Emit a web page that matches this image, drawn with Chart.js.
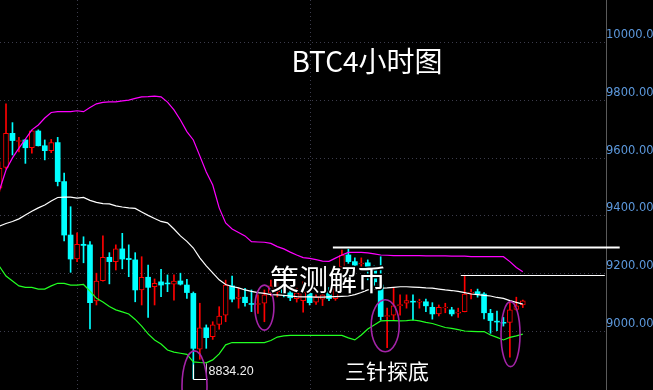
<!DOCTYPE html>
<html><head><meta charset="utf-8">
<script src="https://cdn.jsdelivr.net/npm/chart.js@4.4.1/dist/chart.umd.min.js"></script>
<style>html,body{margin:0;padding:0;background:#000;overflow:hidden}#wrap{width:653px;height:390px;background:#000}</style>
</head><body><div id="wrap"><canvas id="c" width="653" height="390"></canvas></div>
<script>
// 4h candles, index 0..81
const openP  = [9494,9566,9684,9656,9661,9634,9692,9641,9624,9652,9517,9332,9249,9300,9298,9104,9174,9255,9240,9284,9251,9246,9142,9186,9153,9170,9166,9162,9173,9159,9130,8937,9011,8980,9023,9055,9156,9113,9117,9095,9092,9096,9131,9135,9152,9132,9112,9105,9130,9100,9110,9135,9112,9221,9263,9240,9232,9236,9211,9159,9050,9055,9088,9096,9103,9100,9101,9082,9059,9080,9073,9062,9067,9131,9136,9128,9061,9034,9030,9030,9075,9090];
const highP  = [9585,9786,9721,9670,9663,9694,9696,9661,9663,9670,9546,9430,9340,9326,9309,9200,9329,9271,9298,9338,9298,9271,9257,9228,9180,9213,9194,9194,9200,9179,9135,9096,9021,9032,9084,9176,9190,9148,9148,9142,9125,9142,9176,9170,9165,9145,9148,9170,9142,9125,9140,9150,9222,9280,9283,9253,9253,9246,9225,9257,9079,9148,9125,9125,9125,9110,9110,9098,9090,9096,9082,9079,9191,9144,9145,9133,9075,9069,9047,9098,9117,9107];
const lowP   = [9484,9561,9609,9620,9580,9615,9640,9592,9617,9502,9312,9203,9240,9236,9007,9090,9172,9163,9211,9215,9188,9101,9090,9047,9090,9119,9136,9107,9159,9113,8834.2,8902,8940,8971,9006,9032,9101,9079,9086,9067,9061,9032,9121,9118,9118,9105,9100,9065,9090,9092,9088,9105,9106,9211,9234,9211,9211,9177,9149,9038,8942,9038,9055,9079,9038,9079,9067,9041,9052,9063,9052,9047,9066,9111,9117,9042,8992,9001,9017,8909,9072,9081];
const closeP = [9563,9684,9659,9659,9634,9693,9641,9624,9652,9517,9332,9249,9300,9296,9098,9173,9255,9240,9284,9249,9247,9142,9186,9151,9165,9159,9163,9173,9162,9133,8940,9011,8977,9021,9052,9159,9110,9117,9098,9092,9095,9125,9156,9152,9132,9115,9130,9135,9098,9118,9125,9112,9210,9263,9240,9228,9235,9211,9170,9050,9053,9087,9091,9105,9100,9103,9087,9059,9082,9083,9059,9065,9128,9134,9128,9063,9036,9031,9027,9073,9087,9104];
// Bollinger bands
const bollUpper = [9488,9557,9599,9633,9664,9696,9713,9737,9756,9759,9759,9759,9762,9759,9773,9786,9791,9793,9793,9796,9799,9805,9810,9811,9813,9810,9792,9765,9730,9690,9661,9606,9550,9505,9426,9374,9353,9341,9329,9309,9308,9307,9303,9292,9284,9273,9263,9254,9251,9247,9242,9241,9252,9263,9272,9272,9272,9270,9267,9263,9262,9261,9261,9261,9261,9261,9260,9260,9260,9260,9259,9259,9259,9257,9257,9257,9257,9257,9257,9240,9220,9205];
const bollMid   = [9363,9372,9379,9388,9401,9414,9426,9436,9450,9462,9463,9463,9460,9462,9452,9445,9441,9440,9433,9429,9426,9424,9412,9400,9389,9379,9374,9353,9329,9310,9287,9253,9225,9201,9177,9161,9154,9149,9142,9137,9133,9130,9126,9125,9123,9121,9119,9118,9118,9117,9117,9118,9119,9120,9121,9126,9133,9142,9145,9148,9149,9151,9153,9153,9152,9151,9149,9148,9145,9142,9140,9137,9133,9128,9126,9123,9121,9116,9113,9105,9099,9093];
const bollLower = [9223,9190,9173,9156,9151,9151,9145,9145,9156,9165,9165,9159,9159,9161,9138,9113,9100,9085,9073,9066,9059,9040,9017,8990,8969,8955,8934,8927,8923,8919,8893,8891,8890,8900,8921,8952,8960,8960,8960,8960,8960,8960,8967,8979,8983,8985,8985,8985,8985,8985,8985,8985,8985,8985,8976,8969,8986,9007,9021,9035,9036,9036,9035,9036,9038,9035,9030,9026,9019,9012,9009,9005,9000,8999,8998,8998,8986,8978,8969,8978,8983,8989];
const yTicks = [9000,9200,9400,9600,9800,10000];
const dayLines = [12,48];
const lowMark = {index:30, price:8834.20, text:'8834.20'};
const resistA = {from:51.6, to:96, price:9289};
const resistB = {from:71.4, to:93.7, price:9194};
const rings = [{index:30.18, price:8810, rx:12.5, ry:35},{index:41.0, price:9081, rx:9.5, ry:22.5},{index:59.7, price:9018, rx:14, ry:26},{index:79.1, price:8989, rx:9.5, ry:32.5}];

const idx = openP.map((_, i) => i);
const isUp = i => closeP[i] >= openP[i];
const RED = '#ff0000', CYAN = '#00ffff';

const annot = {
  id: 'annot',
  beforeDatasetsDraw(chart) {
    const {ctx, chartArea: a, scales: {x, y}} = chart;
    ctx.save();
    ctx.strokeStyle = '#3c3c4c';
    ctx.lineWidth = 1;
    ctx.setLineDash([1, 3]);
    yTicks.forEach(v => {
      const py = Math.round(y.getPixelForValue(v)) + 0.5;
      ctx.beginPath(); ctx.moveTo(a.left, py); ctx.lineTo(a.right, py); ctx.stroke();
    });
    dayLines.forEach(k => {
      const px = Math.round(x.getPixelForValue(k)) + 0.5;
      ctx.beginPath(); ctx.moveTo(px, a.top); ctx.lineTo(px, a.bottom); ctx.stroke();
    });
    ctx.restore();
  },
  afterDatasetsDraw(chart) {
    const {ctx, scales: {x, y}} = chart;
    ctx.save();
    ctx.strokeStyle = '#ffffff';
    let py = y.getPixelForValue(resistA.price);
    ctx.lineWidth = 2;
    ctx.beginPath(); ctx.moveTo(x.getPixelForValue(resistA.from), py); ctx.lineTo(x.getPixelForValue(resistA.to), py); ctx.stroke();
    py = Math.round(y.getPixelForValue(resistB.price)) + 0.5;
    ctx.lineWidth = 1;
    ctx.beginPath(); ctx.moveTo(x.getPixelForValue(resistB.from), py); ctx.lineTo(x.getPixelForValue(resistB.to), py); ctx.stroke();
    const lx = Math.round(x.getPixelForValue(lowMark.index)) + 0.5;
    const ly = Math.round(y.getPixelForValue(lowMark.price)) + 0.5;
    ctx.strokeStyle = '#ffffff';
    ctx.beginPath(); ctx.moveTo(lx, ly - 15); ctx.lineTo(lx, ly); ctx.lineTo(lx + 14, ly); ctx.stroke();
    ctx.strokeStyle = '#bdbdbd';
    ctx.beginPath(); ctx.moveTo(lx + 13, ly - 16); ctx.lineTo(lx + 13, ly); ctx.stroke();
    ctx.fillStyle = '#f0f0f0';
    ctx.font = '12.5px "Liberation Sans", Arial, sans-serif';
    ctx.textBaseline = 'middle'; ctx.textAlign = 'left';
    ctx.fillText(lowMark.text, lx + 15, ly - 8);
    ctx.strokeStyle = '#a424a8';
    ctx.lineWidth = 1.6;
    rings.forEach(r => {
      ctx.beginPath();
      ctx.ellipse(x.getPixelForValue(r.index), y.getPixelForValue(r.price), r.rx, r.ry, 0, 0, Math.PI * 2);
      ctx.stroke();
    });
    ctx.textBaseline = 'alphabetic'; ctx.textAlign = 'center';
    ctx.fillStyle = '#ffffff';
    ctx.font = '28px "Noto Sans CJK SC", sans-serif';
    ctx.fillText('BTC4小时图', 367, 72);
    ctx.font = '29px "Noto Sans CJK SC", sans-serif';
    ctx.textBaseline = 'middle';
    ctx.lineWidth = 3; ctx.strokeStyle = '#000000'; ctx.lineJoin = 'round';
    ctx.strokeText('策测解币', 328, 280);
    ctx.fillText('策测解币', 328, 280);
    ctx.font = '21px "Noto Sans CJK SC", sans-serif';
    ctx.fillText('三针探底', 387, 371);
    ctx.restore();
  }
};

new Chart(document.getElementById('c'), {
  type: 'bar',
  data: {
    datasets: [
      {type: 'line', label: 'upper', data: idx.map(i => ({x: i, y: bollUpper[i]})), borderColor: '#ff00ff', borderWidth: 1.2, pointRadius: 0, tension: 0, order: 0},
      {type: 'line', label: 'mid', data: idx.map(i => ({x: i, y: bollMid[i]})), borderColor: '#ffffff', borderWidth: 1.2, pointRadius: 0, tension: 0, order: 0},
      {type: 'line', label: 'lower', data: idx.map(i => ({x: i, y: bollLower[i]})), borderColor: '#22ff22', borderWidth: 1.2, pointRadius: 0, tension: 0, order: 0},
      {label: 'body', data: idx.map(i => ({x: i, y: [openP[i], closeP[i]]})), grouped: false, barThickness: 5, borderSkipped: false,
        backgroundColor: c => isUp(c.dataIndex) ? '#000000' : CYAN,
        borderColor: c => isUp(c.dataIndex) ? RED : CYAN,
        borderWidth: c => isUp(c.dataIndex) ? 1 : 0, order: 1},
      {label: 'wick', data: idx.map(i => ({x: i, y: [lowP[i], highP[i]]})), grouped: false, barThickness: 1, borderSkipped: false, borderWidth: 0,
        backgroundColor: c => isUp(c.dataIndex) ? RED : CYAN, order: 2}
    ]
  },
  options: {
    responsive: false, animation: false, devicePixelRatio: 1,
    layout: {padding: 0},
    plugins: {legend: {display: false}, tooltip: {enabled: false}},
    scales: {
      x: {type: 'linear', min: 0.07, max: 93.88, offset: false, display: false},
      y: {type: 'linear', position: 'right', min: 8795.8, max: 10145.3,
        afterFit: s => { s.width = 47; s.paddingTop = 0; s.paddingBottom = 0; },
        afterBuildTicks: s => { s.ticks = yTicks.map(v => ({value: v})); },
        grid: {display: false, drawTicks: false},
        border: {display: true, color: '#5a5a5a', width: 1},
        ticks: {padding: 0, labelOffset: -7, color: '#5c98dc', font: {family: 'DejaVu Sans', size: 11.5}, callback: v => Number(v).toFixed(2)}
      }
    }
  },
  plugins: [annot]
});
</script>
</body></html>
